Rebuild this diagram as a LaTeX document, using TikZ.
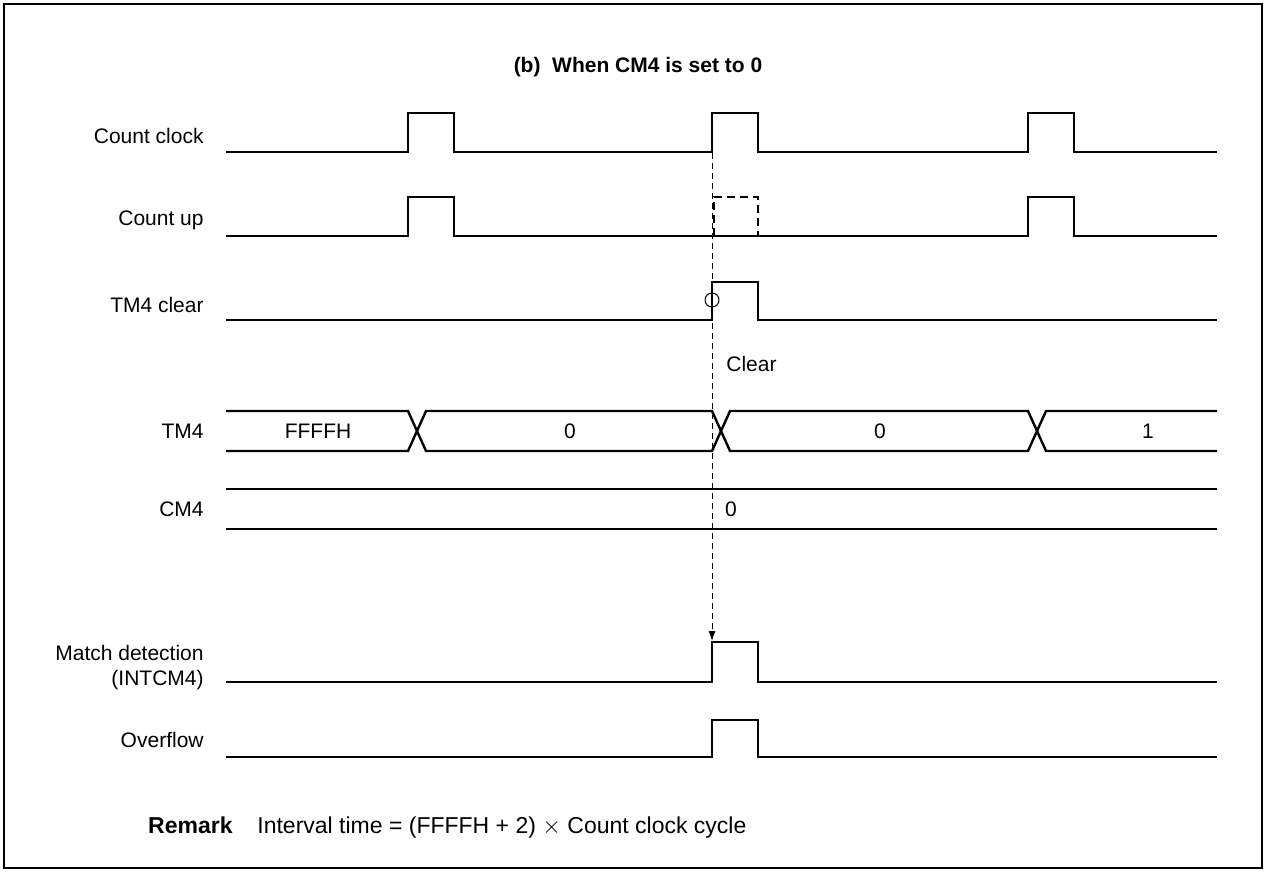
\documentclass[tikz,border=0pt]{standalone}
\usepackage{fontspec}
\setmainfont{Liberation Sans}
\usetikzlibrary{arrows.meta}
\begin{document}
\begin{tikzpicture}[x=0.5pt,y=-0.5pt,
  sig/.style={line width=1.2pt,line join=miter},
  dsig/.style={line width=1.2pt,dash pattern=on 4pt off 2.5pt},
  lbl/.style={anchor=east,font=\fontsize{10.5pt}{12.5pt}\selectfont,align=right,inner sep=0pt},
  val/.style={font=\fontsize{10.5pt}{12.5pt}\selectfont,inner sep=0pt},
  guide/.style={line width=0.5pt,dash pattern=on 3pt off 2pt}]
\useasboundingbox (0,0) rectangle (1267,872);
\draw[line width=1pt] (4,4) rectangle (1262,868);
% title
\node[font=\bfseries\fontsize{10.5pt}{12.5pt}\selectfont] (title) at (638,67) {(b)\ \ When CM4 is set to 0};
% labels
\node[lbl] (lcc) at (204,136) {Count clock};
\node[lbl] (lcu) at (204,220) {Count up};
\node[lbl] (lclr) at (204,305) {TM4 clear};
\node[lbl] (ltm) at (204,431) {TM4};
\node[lbl] (lcm) at (204,509) {CM4};
\node[lbl] (lmd) at (204,668) {Match detection\\(INTCM4)};
\node[lbl] (lov) at (204,740) {Overflow};
% Count clock
\draw[sig] (226,152) -- (408,152) -- (408,113) -- (454,113) -- (454,152) -- (712,152) -- (712,113) -- (758,113) -- (758,152) -- (1028,152) -- (1028,113) -- (1074,113) -- (1074,152) -- (1217,152);
% Count up
\draw[sig] (226,236) -- (408,236) -- (408,197) -- (454,197) -- (454,236) -- (1028,236) -- (1028,197) -- (1074,197) -- (1074,236) -- (1217,236);
\draw[dsig] (714,236) -- (714,197) -- (758,197) -- (758,236);
% TM4 clear
\draw[sig] (226,320) -- (712,320) -- (712,282) -- (758,282) -- (758,320) -- (1217,320);
\draw[line width=0.5pt] (712,300) circle[radius=7];
% TM4 bus
\draw[sig] (226,411) -- (408,411) -- (426,451) -- (712,451) -- (730,411) -- (1028,411) -- (1046,451) -- (1217,451);
\draw[sig] (226,451) -- (408,451) -- (426,411) -- (712,411) -- (730,451) -- (1028,451) -- (1046,411) -- (1217,411);
\node[val] (v1) at (318,431) {FFFFH};
\node[val] (v2) at (570,431) {0};
\node[val] (v3) at (880,431) {0};
\node[val] (v4) at (1148,431) {1};
% CM4
\draw[sig] (226,489) -- (1217,489);
\draw[sig] (226,529) -- (1217,529);
\node[val] (c0) at (731,509) {0};
% Match detection
\draw[sig] (226,682) -- (712,682) -- (712,642) -- (758,642) -- (758,682) -- (1217,682);
% Overflow
\draw[sig] (226,757) -- (712,757) -- (712,720) -- (758,720) -- (758,757) -- (1217,757);
% guide arrow
\coordinate (gs) at (712,153);
\coordinate (ge) at (712,641);
\draw[guide,-{Latex[length=5pt,width=3.5pt]}] (gs) -- (ge);
\node[val,anchor=west] (clr) at (726,364) {Clear};
% remark
\node[font=\bfseries\fontsize{11.5pt}{14pt}\selectfont,anchor=base east,inner sep=0pt] (rem) at (233,833) {Remark};
\node[font=\fontsize{11.5pt}{14pt}\selectfont,anchor=base west,inner sep=0pt] (remt) at (257,833) {Interval time = (FFFFH + 2) $\times$ Count clock cycle};
\end{tikzpicture}
\end{document}
